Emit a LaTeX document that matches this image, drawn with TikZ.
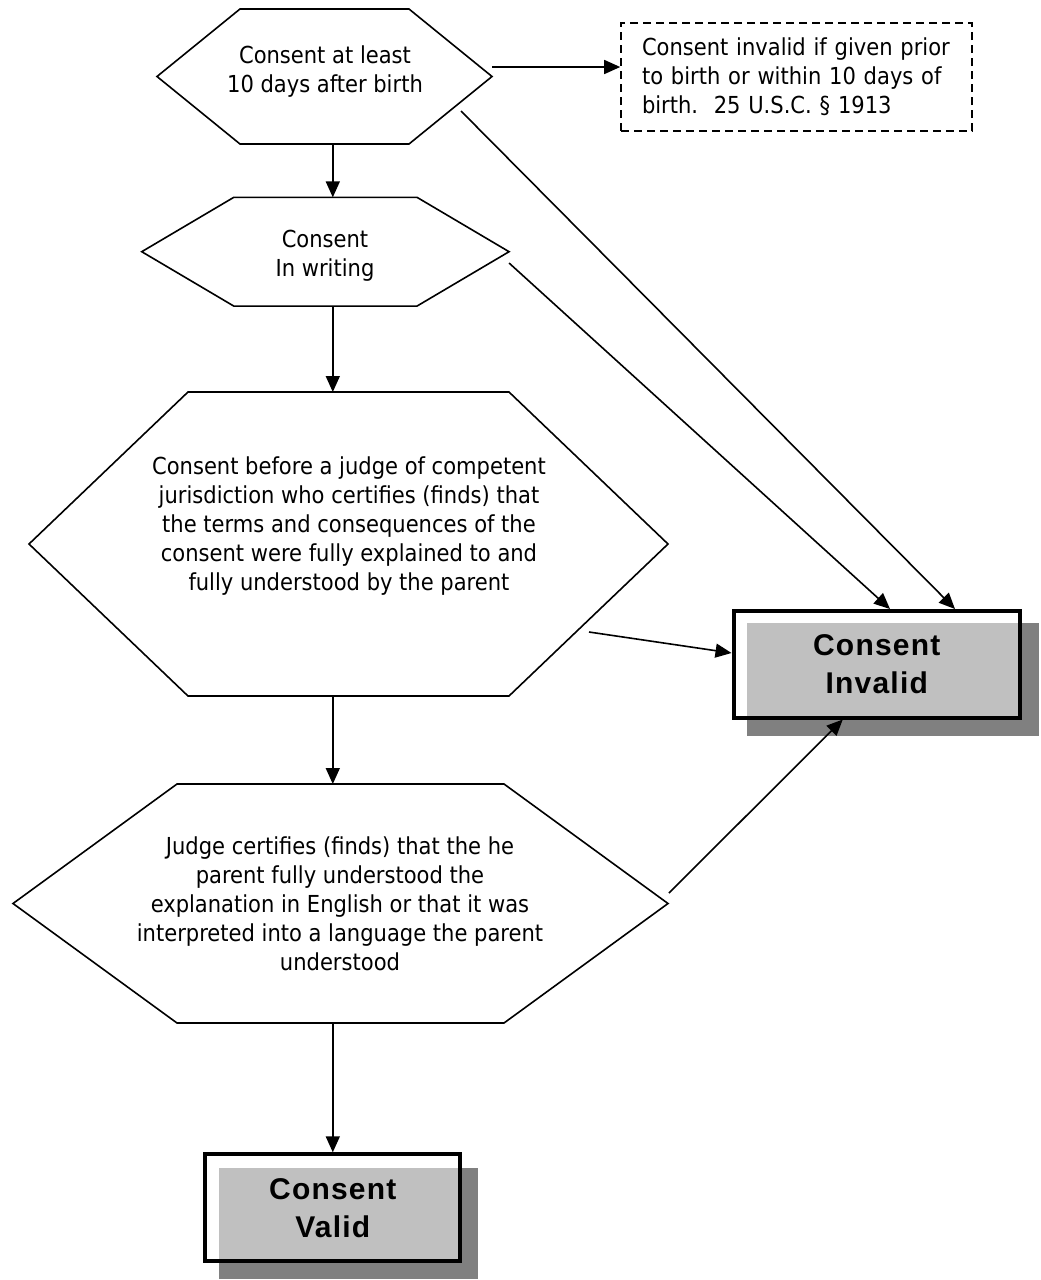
\documentclass[tikz,border=0pt]{standalone}
\usepackage{fontspec}
\setmainfont{DejaVu Sans Condensed}
\newfontfamily\labfont{Liberation Sans}[LetterSpace=4]
\usetikzlibrary{arrows.meta,calc}
\pgfdeclarelayer{background}
\pgfsetlayers{background,main}
\definecolor{shdark}{HTML}{808080}
\definecolor{shlight}{HTML}{C0C0C0}
\newcommand\drawhexagon[2]{\draw[hexline] (#1.west) -- ($(#1.north west)+(#2,0)$) -- ($(#1.north east)+(-#2,0)$) -- (#1.east) -- ($(#1.south east)+(-#2,0)$) -- ($(#1.south west)+(#2,0)$) -- cycle;}
\begin{document}
\begin{tikzpicture}[x=1pt,y=-1pt,
  font=\fontsize{23.4}{29}\selectfont,
  hexbox/.style={inner sep=0pt, outer sep=0pt},
  hexline/.style={line width=1.6pt, line join=miter},
  hextext/.style={align=center, inner sep=0pt},
  arr/.style={line width=1.6pt, -{Triangle[length=16pt,width=14pt]}},
  endbox/.style={draw, line width=4pt, align=center, inner sep=0pt,
    font=\labfont\bfseries\fontsize{30}{38}\selectfont},
  notebox/.style={draw, line width=1.6pt, dash pattern=on 8pt off 5pt,
    align=left, text width=309pt, inner xsep=21pt, inner ysep=0pt, minimum height=108pt}]
\useasboundingbox (0,0) rectangle (1041,1280);

% hexagons
\node[hexbox, minimum width=335pt, minimum height=135pt] (h1) at (324.5,76.5) {};
\drawhexagon{h1}{83}
\node[hexbox, minimum width=367.3pt, minimum height=108.7pt] (h2) at (325.4,251.7) {};
\drawhexagon{h2}{92}
\node[hexbox, minimum width=639pt, minimum height=304pt] (h3) at (348.5,544) {};
\drawhexagon{h3}{159}
\node[hexbox, minimum width=655pt, minimum height=239pt] (h4) at (340.5,903.5) {};
\drawhexagon{h4}{164}

% hexagon texts
\node[hextext] (t1) at (325,71.4) {Consent at least\\10 days after birth};
\node[hextext] (t2) at (325,255.7) {Consent\\In writing};
\node[hextext] (t3) at (349,525.9) {Consent before a judge of competent\\jurisdiction who certifies (finds) that\\the terms and consequences of the\\consent were fully explained to and\\fully understood by the parent};
\node[hextext] (t4) at (340,904.1) {Judge certifies (finds) that the he\\parent fully understood the\\explanation in English or that it was\\interpreted into a language the parent\\understood};

% note box
\node[notebox] (note) at (796.5,77) {Consent invalid if given prior\\to birth or within 10 days of\\birth.\ \ 25 U.S.C. § 1913};

% result boxes
\node[endbox, minimum width=286.5pt, minimum height=106.5pt] (inv) at (876.75,664.25) {Consent\\Invalid};
\node[endbox, minimum width=255pt, minimum height=107pt] (val) at (332.8,1207.8) {Consent\\Valid};

\begin{pgfonlayer}{background}
  \fill[white] (0,0) rectangle (1041,1280);
  \fill[shdark] ($(inv.north west)+(15.2,14.3)$) rectangle ($(inv.south east)+(17,16.5)$);
  \fill[white] (inv.north west) rectangle (inv.south east);
  \fill[shlight] ($(inv.north west)+(15.2,14.3)$) rectangle (inv.south east);
  \fill[shdark] ($(val.north west)+(16,16)$) rectangle ($(val.south east)+(16,15.7)$);
  \fill[white] (val.north west) rectangle (val.south east);
  \fill[shlight] ($(val.north west)+(16,16)$) rectangle (val.south east);
\end{pgfonlayer}

% connectors
\coordinate (a1) at ($(h1.east)+(0,-9.5)$);
\draw[arr] (a1) -- (a1 -| note.west);
\draw[arr] (h1.south -| val.north) -- (h2.north -| val.north);
\draw[arr] (h2.south -| val.north) -- (h3.north -| val.north);
\draw[arr] (h3.south -| val.north) -- (h4.north -| val.north);
\draw[arr] (h4.south -| val.north) -- (val.north);
\draw[arr] ($(h1.east)+(-31,34.5)$) -- ($(inv.north)+(78.25,0)$);
\draw[arr] ($(h2.east)+(0,11.3)$) -- ($(inv.north)+(13.25,0)$);
\draw[arr] ($(h3.east)+(-79,88)$) -- ($(inv.west)+(0,-11.25)$);
\draw[arr] ($(h4.east)+(1,-10.5)$) -- ($(inv.south)+(-34,0)$);
\end{tikzpicture}
\end{document}
